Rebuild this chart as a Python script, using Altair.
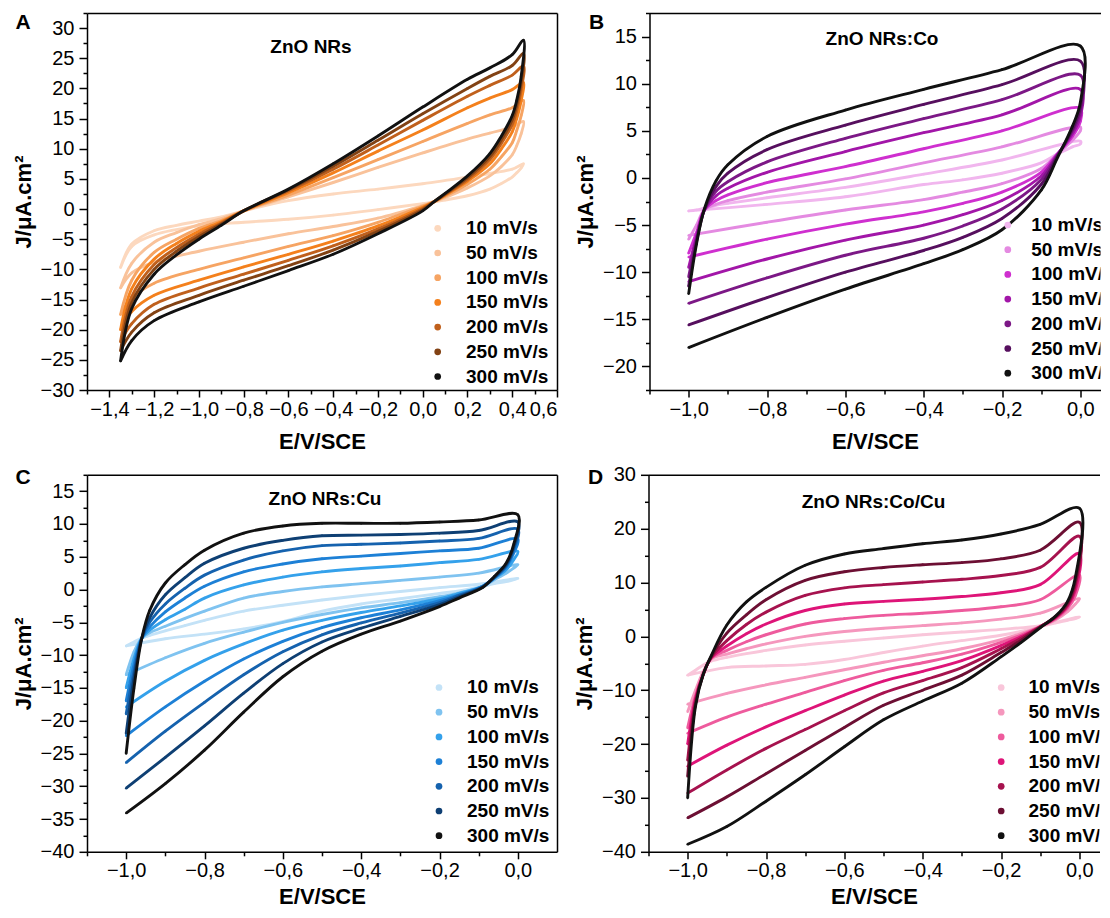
import altair as alt
import pandas as pd

FONT = "Liberation Sans"
RATES = ["10 mV/s", "50 mV/s", "100 mV/s", "150 mV/s", "200 mV/s", "250 mV/s", "300 mV/s"]

COLORS_A = ["#FCD8BE", "#F9C29A", "#F6A463", "#F4801C", "#C0601C", "#824214", "#111111"]
COLORS_B = ["#F1B6EE", "#E48AE1", "#CF2FCF", "#A216A8", "#7C1886", "#560F5E", "#111111"]
COLORS_C = ["#C3E2F7", "#7FC3F0", "#34A1EB", "#1D80D6", "#1562AE", "#0E3F73", "#111111"]
COLORS_D = ["#F9C6DA", "#F597BD", "#EE5B9D", "#DE1478", "#A6124E", "#6C0F33", "#111111"]

PANEL_LETTERS = ["A", "B", "C", "D"]
PANEL_TITLES = ["ZnO NRs", "ZnO NRs:Co", "ZnO NRs:Cu", "ZnO NRs:Co/Cu"]
X_TITLE = "E/V/SCE"
Y_TITLE = "J/\u03bcA.cm\u00b2"

# ---------------- Panel A : ZnO NRs ----------------
A_X_UP = [-1.35, -1.3, -1.2, -1.1, -1.0, -0.9, -0.8, -0.6, -0.4, -0.2, 0.0, 0.2, 0.3, 0.4, 0.45]
A_UP = {
    "10 mV/s":  [-9.7, -5.8, -3.6, -2.7, -2.0, -1.3, -0.3, 1.4, 2.5, 3.3, 4.2, 5.3, 5.9, 6.6, 7.5],
    "50 mV/s":  [-13.1, -9.0, -5.5, -3.9, -2.6, -1.6, -0.3, 2.0, 4.4, 6.9, 9.3, 11.6, 12.6, 13.6, 14.5],
    "100 mV/s": [-17.5, -11.8, -7.2, -5.0, -3.2, -1.9, -0.3, 2.3, 5.2, 8.2, 11.2, 14.2, 15.6, 16.8, 18.0],
    "150 mV/s": [-20.0, -13.2, -8.3, -5.7, -3.7, -2.1, -0.3, 2.7, 6.0, 9.6, 13.1, 16.8, 18.4, 19.8, 21.0],
    "200 mV/s": [-22.0, -14.5, -9.2, -6.4, -4.2, -2.3, -0.3, 3.0, 6.6, 10.6, 14.7, 18.7, 20.5, 22.2, 23.7],
    "250 mV/s": [-23.5, -15.5, -10.0, -7.0, -4.6, -2.5, -0.3, 3.2, 7.1, 11.4, 15.8, 20.0, 22.0, 23.8, 25.8],
    "300 mV/s": [-25.2, -16.5, -10.8, -7.6, -5.0, -2.7, -0.3, 3.3, 7.5, 12.1, 16.9, 21.5, 23.4, 25.6, 28.0],
}
A_X_LO = [0.44, 0.42, 0.4, 0.35, 0.3, 0.2, 0.1, 0.05, 0.0, -0.2, -0.4, -0.6, -0.8, -1.0, -1.2, -1.3, -1.35]
A_LO = {
    "10 mV/s":  [6.8, 6.0, 5.3, 4.2, 3.3, 2.2, 1.5, 1.2, 0.9, -0.1, -1.0, -1.7, -2.2, -2.8, -4.3, -6.2, -9.7],
    "50 mV/s":  [12.5, 10.5, 9.0, 7.0, 5.5, 3.5, 1.9, 1.2, 0.6, -1.5, -2.9, -4.1, -5.5, -7.0, -8.8, -10.6, -13.1],
    "100 mV/s": [15.5, 13.0, 11.0, 8.6, 6.6, 4.1, 2.1, 1.2, 0.5, -2.2, -4.4, -6.2, -8.1, -10.0, -12.3, -14.8, -17.5],
    "150 mV/s": [18.0, 15.0, 12.8, 9.9, 7.5, 4.6, 2.3, 1.2, 0.3, -2.8, -5.3, -7.5, -9.6, -11.8, -14.3, -17.0, -20.0],
    "200 mV/s": [19.8, 16.3, 14.0, 10.8, 8.2, 4.9, 2.4, 1.2, 0.1, -3.3, -6.1, -8.5, -10.8, -13.1, -15.8, -19.0, -22.0],
    "250 mV/s": [21.0, 17.2, 14.8, 11.4, 8.7, 5.2, 2.5, 1.2, -0.1, -3.7, -6.8, -9.4, -11.8, -14.3, -17.2, -20.4, -23.5],
    "300 mV/s": [22.0, 18.0, 15.5, 12.0, 9.2, 5.5, 2.6, 1.2, -0.3, -4.1, -7.5, -10.2, -12.8, -15.4, -18.5, -21.8, -25.2],
}

# ---------------- Panel B : ZnO NRs:Co ----------------
B_X_UP = [-1.0, -0.98, -0.96, -0.93, -0.9, -0.8, -0.6, -0.4, -0.2, 0.0]
B_UP = {
    "10 mV/s":  [-3.5, -3.4, -3.2, -2.9, -2.7, -2.1, -1.0, 0.4, 1.9, 3.9],
    "50 mV/s":  [-6.5, -5.0, -3.4, -2.8, -2.4, -1.5, -0.1, 1.6, 3.3, 5.4],
    "100 mV/s": [-8.0, -5.8, -3.4, -2.4, -1.8, -0.5, 1.2, 3.1, 5.0, 7.4],
    "150 mV/s": [-9.5, -6.2, -3.4, -1.9, -1.1, 0.6, 2.8, 4.8, 6.7, 9.4],
    "200 mV/s": [-10.5, -6.5, -3.4, -1.4, -0.4, 1.7, 4.2, 6.3, 8.3, 10.9],
    "250 mV/s": [-11.5, -6.8, -3.4, -0.9, 0.5, 3.0, 5.6, 7.8, 9.9, 12.4],
    "300 mV/s": [-12.3, -7.0, -3.3, -0.3, 1.4, 4.4, 7.2, 9.4, 11.5, 14.0],
}
B_X_LO = [0.0, -0.02, -0.06, -0.1, -0.2, -0.3, -0.4, -0.6, -0.8, -1.0]
B_LO = {
    "10 mV/s":  [3.6, 3.3, 2.5, 1.6, 0.5, -0.2, -0.7, -2.0, -2.8, -3.5],
    "50 mV/s":  [5.0, 4.0, 2.5, 1.0, -0.6, -1.5, -2.3, -3.4, -4.7, -6.1],
    "100 mV/s": [6.0, 4.4, 2.5, 0.6, -1.5, -2.7, -3.6, -4.9, -6.5, -8.4],
    "150 mV/s": [6.5, 4.7, 2.4, 0.2, -2.4, -3.9, -5.0, -6.6, -8.6, -11.0],
    "200 mV/s": [7.0, 5.0, 2.3, -0.2, -3.3, -5.1, -6.4, -8.2, -10.6, -13.3],
    "250 mV/s": [7.5, 5.2, 2.2, -0.7, -4.3, -6.3, -7.7, -10.0, -12.7, -15.6],
    "300 mV/s": [8.0, 5.5, 2.0, -1.3, -5.5, -7.6, -9.1, -11.8, -14.8, -18.0],
}

# ---------------- Panel C : ZnO NRs:Cu ----------------
C_X_UP = [-1.0, -0.98, -0.96, -0.94, -0.9, -0.85, -0.8, -0.7, -0.6, -0.5, -0.4, -0.3, -0.2, -0.1, 0.0]
C_UP = {
    "10 mV/s":  [-8.6, -8.0, -7.4, -7.0, -6.3, -5.5, -4.7, -3.3, -2.4, -1.6, -0.9, -0.3, 0.3, 0.8, 1.7],
    "50 mV/s":  [-13.0, -9.5, -7.4, -6.6, -5.6, -4.4, -3.3, -1.3, -0.3, 0.4, 0.9, 1.4, 1.9, 2.5, 3.8],
    "100 mV/s": [-15.0, -10.5, -7.4, -6.2, -4.6, -3.0, -1.3, 0.7, 1.9, 2.7, 3.2, 3.6, 4.1, 4.6, 5.8],
    "150 mV/s": [-17.0, -11.5, -7.4, -5.7, -3.4, -1.3, 0.5, 2.7, 3.9, 4.7, 5.1, 5.5, 5.9, 6.3, 7.7],
    "200 mV/s": [-19.0, -12.5, -7.4, -5.0, -2.2, 0.2, 2.2, 4.5, 5.9, 6.7, 6.9, 7.1, 7.4, 7.8, 9.2],
    "250 mV/s": [-22.0, -13.5, -7.4, -4.3, -0.8, 1.8, 4.0, 6.3, 7.5, 8.2, 8.3, 8.4, 8.6, 9.0, 10.3],
    "300 mV/s": [-25.0, -15.0, -7.4, -3.2, 1.0, 3.8, 6.0, 8.6, 9.7, 10.1, 10.1, 10.1, 10.3, 10.6, 11.4],
}
C_X_LO = [-0.01, -0.03, -0.06, -0.09, -0.15, -0.2, -0.3, -0.4, -0.5, -0.6, -0.7, -0.8, -0.9, -1.0]
C_LO = {
    "10 mV/s":  [1.5, 1.2, 0.9, 0.5, -0.2, -0.6, -1.4, -2.2, -3.3, -4.9, -6.0, -6.8, -7.5, -8.6],
    "50 mV/s":  [3.3, 2.5, 1.5, 0.5, -0.5, -1.1, -2.0, -2.8, -3.8, -5.0, -6.5, -8.2, -10.4, -13.0],
    "100 mV/s": [4.6, 3.0, 1.7, 0.5, -0.6, -1.4, -2.5, -3.5, -4.7, -6.2, -8.3, -10.8, -14.0, -17.9],
    "150 mV/s": [5.6, 3.4, 1.8, 0.5, -0.8, -1.7, -3.1, -4.3, -5.8, -7.9, -10.6, -14.0, -17.9, -22.3],
    "200 mV/s": [6.2, 3.6, 1.8, 0.4, -0.9, -2.0, -3.6, -5.1, -6.9, -9.5, -13.0, -17.2, -21.6, -26.4],
    "250 mV/s": [6.6, 3.8, 1.9, 0.4, -1.1, -2.3, -4.1, -5.9, -8.0, -11.3, -15.8, -20.8, -25.6, -30.3],
    "300 mV/s": [7.0, 4.0, 2.0, 0.3, -1.3, -2.6, -4.8, -6.8, -9.4, -13.3, -18.7, -24.5, -29.6, -34.1],
}

# ---------------- Panel D : ZnO NRs:Co/Cu ----------------
D_X_UP = [-1.0, -0.98, -0.96, -0.94, -0.9, -0.85, -0.8, -0.7, -0.6, -0.5, -0.4, -0.3, -0.2, -0.1, 0.0]
D_UP = {
    "10 mV/s":  [-7.2, -6.3, -5.3, -4.6, -3.9, -3.2, -2.6, -1.6, -0.9, -0.3, 0.3, 0.8, 1.3, 2.0, 3.6],
    "50 mV/s":  [-14.0, -10.0, -6.5, -4.2, -3.3, -2.3, -1.4, 0.0, 0.9, 1.5, 2.0, 2.5, 3.2, 4.3, 7.0],
    "100 mV/s": [-17.0, -11.0, -7.0, -4.1, -2.6, -1.0, 0.3, 2.3, 3.3, 3.9, 4.3, 4.8, 5.5, 6.8, 11.4],
    "150 mV/s": [-20.0, -11.5, -7.0, -4.0, -1.8, 0.5, 2.3, 4.8, 6.0, 6.5, 6.9, 7.4, 8.1, 9.6, 15.4],
    "200 mV/s": [-23.0, -12.0, -7.0, -3.9, -0.8, 2.2, 4.5, 7.6, 9.0, 9.6, 10.1, 10.6, 11.3, 12.8, 18.6],
    "250 mV/s": [-26.0, -12.5, -7.0, -3.8, 0.6, 4.0, 6.8, 10.4, 12.0, 12.8, 13.3, 13.7, 14.4, 16.0, 21.2],
    "300 mV/s": [-30.0, -13.0, -7.0, -3.6, 2.1, 6.4, 9.1, 13.2, 15.3, 16.3, 17.2, 17.9, 19.0, 20.8, 23.8],
}
D_X_LO = [-0.01, -0.03, -0.06, -0.1, -0.15, -0.2, -0.3, -0.4, -0.5, -0.6, -0.7, -0.8, -0.9, -1.0]
D_LO = {
    "10 mV/s":  [3.3, 3.0, 2.5, 1.8, 0.9, 0.2, -0.8, -1.8, -3.0, -4.3, -5.2, -5.5, -5.8, -7.2],
    "50 mV/s":  [6.0, 4.6, 3.1, 1.8, 0.5, -0.6, -2.3, -3.6, -4.8, -6.2, -7.6, -9.0, -10.6, -12.6],
    "100 mV/s": [7.6, 5.2, 3.3, 1.8, 0.2, -1.1, -3.3, -4.9, -6.3, -8.2, -10.4, -12.6, -15.0, -18.0],
    "150 mV/s": [8.6, 5.6, 3.5, 1.8, -0.1, -1.7, -4.5, -6.5, -8.3, -10.9, -13.8, -16.8, -20.2, -24.1],
    "200 mV/s": [9.5, 5.9, 3.6, 1.8, -0.4, -2.3, -5.8, -8.2, -10.5, -13.8, -17.3, -20.8, -24.8, -29.1],
    "250 mV/s": [10.2, 6.2, 3.7, 1.7, -0.8, -3.0, -7.2, -10.0, -12.8, -16.9, -21.2, -25.5, -29.8, -33.7],
    "300 mV/s": [11.0, 6.5, 3.8, 1.6, -1.2, -3.8, -8.7, -12.0, -15.5, -20.5, -25.7, -30.6, -35.3, -38.6],
}

# axis tick values
A_X_MAJ = [-1.4, -1.2, -1.0, -0.8, -0.6, -0.4, -0.2, 0.0, 0.2, 0.4, 0.6]
A_X_MIN = [-1.5, -1.3, -1.1, -0.9, -0.7, -0.5, -0.3, -0.1, 0.1, 0.3, 0.5]
A_Y_MAJ = [-30, -25, -20, -15, -10, -5, 0, 5, 10, 15, 20, 25, 30]
A_Y_MIN = [-27.5, -22.5, -17.5, -12.5, -7.5, -2.5, 2.5, 7.5, 12.5, 17.5, 22.5, 27.5, 32.5]
BCD_X_MAJ = [-1.0, -0.8, -0.6, -0.4, -0.2, 0.0]
BCD_X_MIN = [-1.1, -0.9, -0.7, -0.5, -0.3, -0.1]
B_Y_MAJ = [-20, -15, -10, -5, 0, 5, 10, 15]
B_Y_MIN = [-22.5, -17.5, -12.5, -7.5, -2.5, 2.5, 7.5, 12.5, 17.5]
C_Y_MAJ = [-40, -35, -30, -25, -20, -15, -10, -5, 0, 5, 10, 15]
C_Y_MIN = [-37.5, -32.5, -27.5, -22.5, -17.5, -12.5, -7.5, -2.5, 2.5, 7.5, 12.5, 17.5]
D_Y_MAJ = [-40, -30, -20, -10, 0, 10, 20, 30]
D_Y_MIN = [-35, -25, -15, -5, 5, 15, 25]

PH = 377
PX_PER_V_BCD = 470 / 1.2          # panels B-D: 1.2 V over 470 px
W_LEFT, W_RIGHT = 470, 451        # right-hand panels are cut at the page edge, as in the figure
X_RIGHT_END = -1.1 + W_RIGHT / PX_PER_V_BCD
ROW_DY = 24.7


def loop_table(x_up, up, x_lo, lo):
    rows = []
    for r in RATES:
        i = 0
        for x, y in zip(x_up, up[r]):
            rows.append({"E": x, "J": y, "rate": r, "i": i})
            i += 1
        for x, y in zip(x_lo, lo[r]):
            rows.append({"E": x, "J": y, "rate": r, "i": i})
            i += 1
    return pd.DataFrame(rows)


def panel(df, colors, width, xdom, ydom, xmaj, xmin, ymaj, ymin, k, letter_xy, title_xy, leg,
          xtp, ytp, right_border):
    xs = alt.Scale(domain=xdom, nice=False, zero=False)
    ys = alt.Scale(domain=ydom, nice=False, zero=False)
    x_axis = alt.Axis(values=xmaj, title=X_TITLE, orient="bottom", tickSize=7, labelPadding=2,
                      titlePadding=xtp,
                      labelExpr="replace(format(datum.value, '.1f'), '.', ',')")
    y_axis = alt.Axis(values=ymaj, title=Y_TITLE, orient="left", tickSize=8, labelPadding=5,
                      titlePadding=ytp, format="d")
    x_minor = alt.Axis(values=xmin, title=None, orient="bottom", tickSize=4, labels=False, domain=False)
    y_minor = alt.Axis(values=ymin, title=None, orient="left", tickSize=4, labels=False, domain=False)
    x_top = alt.Axis(values=[], title=None, orient="top", ticks=False, labels=False, domain=True)
    y_right = alt.Axis(values=[], title=None, orient="right", ticks=False, labels=False, domain=True)
    cscale = alt.Scale(domain=RATES, range=colors)

    dots = alt.Chart(df).mark_circle(size=6, opacity=1, clip=True).encode(
        x=alt.X("E:Q", scale=xs, axis=x_axis),
        y=alt.Y("J:Q", scale=ys, axis=y_axis),
        color=alt.Color("rate:N", scale=cscale, legend=None),
    )
    lines = alt.Chart(df).mark_line(strokeWidth=2.9, interpolate="catmull-rom", clip=True).encode(
        x=alt.X("E:Q", scale=xs, axis=None),
        y=alt.Y("J:Q", scale=ys, axis=None),
        color=alt.Color("rate:N", scale=cscale, legend=None),
        detail="rate:N",
        order="i:Q",
    )
    minor = alt.Chart(df).mark_point(opacity=0).encode(
        x=alt.X("E:Q", scale=xs, axis=x_minor),
        y=alt.Y("J:Q", scale=ys, axis=y_minor),
    )
    frame = alt.Chart(df).mark_point(opacity=0).encode(
        x=alt.X("E:Q", scale=xs, axis=x_top),
        y=alt.Y("J:Q", scale=ys, axis=y_right if right_border else None),
    )
    # legend drawn inside the plot (clipped at the plot edge like the original figure)
    legdf = pd.DataFrame({"rate": RATES})
    legdf["ly"] = [leg[2] + ROW_DY * n for n in range(len(RATES))]
    leg_sym = alt.Chart(legdf).mark_circle(size=45, opacity=1, clip=True).encode(
        x=alt.value(leg[0]),
        y=alt.Y("ly:Q", scale=None, axis=None),
        color=alt.Color("rate:N", scale=cscale, legend=None),
    )
    leg_txt = alt.Chart(legdf).mark_text(align="left", baseline="middle", fontSize=19, fontWeight="bold",
                                         font=FONT, color="black", clip=True).encode(
        x=alt.value(leg[1]),
        y=alt.Y("ly:Q", scale=None, axis=None),
        text="rate:N",
    )
    lab = pd.DataFrame({"t": [PANEL_LETTERS[k]]})
    letter = alt.Chart(lab).mark_text(align="left", baseline="alphabetic", fontSize=21,
                                      fontWeight="bold", font=FONT, color="black").encode(
        text="t:N", x=alt.value(letter_xy[0]), y=alt.value(letter_xy[1]))
    tt = pd.DataFrame({"t": [PANEL_TITLES[k]]})
    title = alt.Chart(tt).mark_text(align="center", baseline="alphabetic", fontSize=19,
                                    fontWeight="bold", font=FONT, color="black").encode(
        text="t:N", x=alt.value(title_xy[0]), y=alt.value(title_xy[1]))
    return alt.layer(dots, lines, minor, frame, leg_sym, leg_txt, letter, title).resolve_axis(
        x="independent", y="independent").properties(width=width, height=PH)


dfA = loop_table(A_X_UP, A_UP, A_X_LO, A_LO)
dfB = loop_table(B_X_UP, B_UP, B_X_LO, B_LO)
dfC = loop_table(C_X_UP, C_UP, C_X_LO, C_LO)
dfD = loop_table(D_X_UP, D_UP, D_X_LO, D_LO)

pA = panel(dfA, COLORS_A, W_LEFT, [-1.5, 0.6], [-30, 32.5], A_X_MAJ, A_X_MIN, A_Y_MAJ, A_Y_MIN, 0,
           (-71.5, 16), (224, 40), (350.7, 379, 215.3), 12, 5, True)
pB = panel(dfB, COLORS_B, W_RIGHT, [-1.1, X_RIGHT_END], [-22.5, 17.5], BCD_X_MAJ, BCD_X_MIN, B_Y_MAJ, B_Y_MIN, 1,
           (-60.5, 16), (232.5, 32), (358.3, 381.7, 212), 12, 5, False)
pC = panel(dfC, COLORS_C, W_LEFT, [-1.1, 0.1], [-40, 17.5], BCD_X_MAJ, BCD_X_MIN, C_Y_MAJ, C_Y_MIN, 2,
           (-71.5, 9), (238, 30), (352, 380, 212.7), 6, 5, True)
pD = panel(dfD, COLORS_D, W_RIGHT, [-1.1, X_RIGHT_END], [-40, 30], BCD_X_MAJ, BCD_X_MIN, D_Y_MAJ, D_Y_MIN, 3,
           (-60.5, 9), (225, 33), (352.7, 380, 212.7), 6, 5, False)

top = alt.hconcat(pA, pB, spacing=16.5).resolve_scale(x="independent", y="independent", color="independent")
bottom = alt.hconcat(pC, pD, spacing=16.5).resolve_scale(x="independent", y="independent", color="independent")
chart = alt.vconcat(top, bottom, spacing=12.8).resolve_scale(
    x="independent", y="independent", color="independent"
).properties(padding={"left": 4, "top": 4, "right": 0, "bottom": 0}).configure(
    font=FONT
).configure_view(
    strokeWidth=0
).configure_axis(
    labelFont=FONT, labelFontSize=20, labelColor="black",
    titleFont=FONT, titleFontSize=22, titleFontWeight="bold", titleColor="black",
    domainColor="black", domainWidth=1.5, tickColor="black", tickWidth=1.5, grid=False,
)

chart.save("out.html", embed_options={"renderer": "svg", "actions": False})
